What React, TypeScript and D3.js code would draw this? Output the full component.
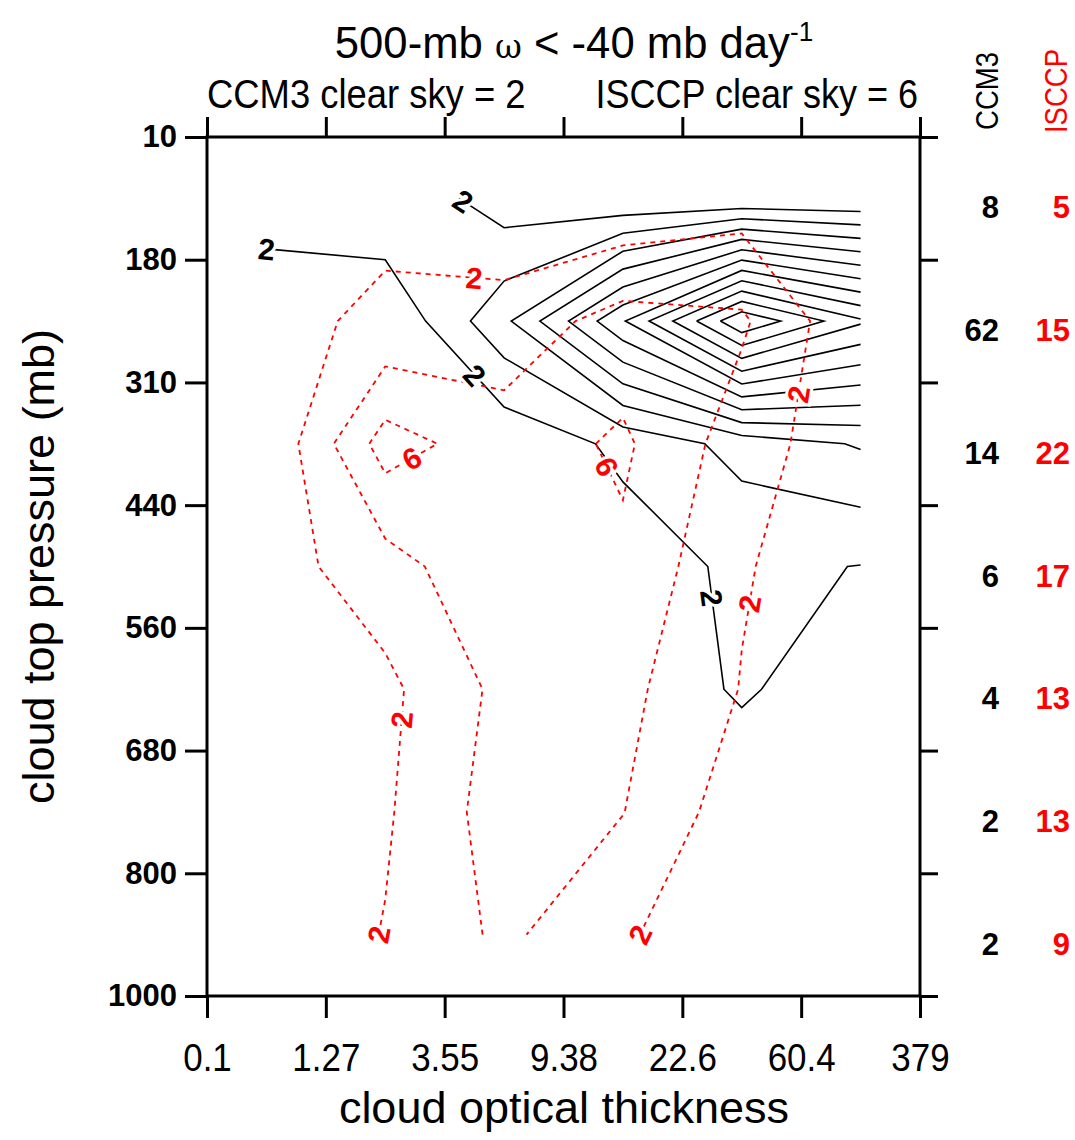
import React, { useEffect, useRef } from 'react'
import * as d3 from 'd3'

// bin edges of the ISCCP joint histogram
const tauEdges = ['0.1', '1.27', '3.55', '9.38', '22.6', '60.4', '379']
const pressureEdges = ['10', '180', '310', '440', '560', '680', '800', '1000']

// cloud amount (%) per bin: rows = pressure bins from the top, cols = tau bins
const ccm3Rows = [
    [3.4, 3.8, 0.9, 0.1, 0.05, 0.05],
    [0.0, 0.2, 5.5, 13.8, 23.8, 18.3],
    [0.1, 0.1, 0.5, 2.45, 4.7, 6.2],
    [0.2, 0.3, 0.5, 1.0, 2.4, 1.95],
    [0.2, 0.2, 0.3, 0.3, 2.3, 0.5],
    [0.3, 0.3, 0.4, 0.4, 0.3, 0.3],
    [0.3, 0.3, 0.4, 0.4, 0.3, 0.3],
]
const isccpRows = [
    [0.8, 1.57, 0.2, 0.3, 1.08, 0.5],
    [1.55, 2.3, 2.9, 4.73, 4.3, 0.3],
    [0.2, 6.9, 4.85, 6.34, 2.97, 0.6],
    [1.1, 3.15, 5.7, 5.6, 2.17, 0.72],
    [0.25, 1.52, 4.55, 4.55, 1.92, 0.2],
    [0.6, 1.75, 5.03, 4.05, 0.85, 0.6],
    [0.3, 2.1, 4.42, 2.2, 0.8, 0.2],
]
const ccm3Totals = ['8', '62', '14', '6', '4', '2', '2']
const isccpTotals = ['5', '15', '22', '17', '13', '13', '9']
const contourLevels = [2, 4, 6, 8, 10, 12, 14, 16, 18, 20, 22, 24]

// where the line labels sit, in bin units (col, row of cell centres)
const ccm3LabelSpots = [
    { level: 2, col: -0.01, row: 0.42 },
    { level: 2, col: 1.65, row: 0.03 },
    { level: 2, col: 1.71, row: 1.48 },
    { level: 2, col: 3.71, row: 3.26 },
]
const isccpLabelSpots = [
    { level: 2, col: 1.74, row: 0.75 },
    { level: 2, col: 4.43, row: 1.59 },
    { level: 2, col: 4.11, row: 3.31 },
    { level: 2, col: 3.1, row: 6.0 },
    { level: 2, col: 1.14, row: 4.25 },
    { level: 2, col: 0.93, row: 6.0 },
    { level: 6, col: 1.23, row: 2.13 },
    { level: 6, col: 2.77, row: 2.23 },
]

// marching squares -> open/closed polylines in (col, row) units
function isolines(grid, level) {
    const nr = grid.length
    const nc = grid[0].length
    const pts = {}
    const adj = {}
    const hKey = (i, j) => `h${i}_${j}`
    const vKey = (i, j) => `v${i}_${j}`
    const hPt = (i, j) => {
        const a = grid[i][j], b = grid[i][j + 1]
        return [j + (level - a) / (b - a), i]
    }
    const vPt = (i, j) => {
        const a = grid[i][j], b = grid[i + 1][j]
        return [j, i + (level - a) / (b - a)]
    }
    const link = (k1, p1, k2, p2) => {
        pts[k1] = p1
        pts[k2] = p2
        ;(adj[k1] = adj[k1] || []).push(k2)
        ;(adj[k2] = adj[k2] || []).push(k1)
    }
    for (let i = 0; i < nr - 1; i++) {
        for (let j = 0; j < nc - 1; j++) {
            const a = grid[i][j], b = grid[i][j + 1]
            const c = grid[i + 1][j + 1], d = grid[i + 1][j]
            const code = (a > level ? 8 : 0) | (b > level ? 4 : 0) | (c > level ? 2 : 0) | (d > level ? 1 : 0)
            if (code === 0 || code === 15) continue
            const T = () => [hKey(i, j), hPt(i, j)]
            const B = () => [hKey(i + 1, j), hPt(i + 1, j)]
            const L = () => [vKey(i, j), vPt(i, j)]
            const R = () => [vKey(i, j + 1), vPt(i, j + 1)]
            const seg = (e1, e2) => {
                const [k1, p1] = e1()
                const [k2, p2] = e2()
                link(k1, p1, k2, p2)
            }
            const centreHigh = (a + b + c + d) / 4 > level
            switch (code) {
                case 1: case 14: seg(L, B); break
                case 2: case 13: seg(B, R); break
                case 3: case 12: seg(L, R); break
                case 4: case 11: seg(T, R); break
                case 6: case 9: seg(T, B); break
                case 7: case 8: seg(T, L); break
                case 5:
                    if (centreHigh) { seg(T, L); seg(B, R) } else { seg(T, R); seg(L, B) }
                    break
                case 10:
                    if (centreHigh) { seg(T, R); seg(L, B) } else { seg(T, L); seg(B, R) }
                    break
            }
        }
    }
    const used = new Set()
    const lines = []
    const walk = (start) => {
        const out = [start]
        used.add(start)
        let cur = start
        for (;;) {
            const next = (adj[cur] || []).find((k) => !used.has(k))
            if (!next) break
            used.add(next)
            out.push(next)
            cur = next
        }
        if ((adj[cur] || []).includes(start) && out.length > 2) out.push(start)
        return out.map((k) => pts[k])
    }
    const keys = Object.keys(adj)
    keys.filter((k) => adj[k].length === 1).forEach((k) => { if (!used.has(k)) lines.push(walk(k)) })
    keys.forEach((k) => { if (!used.has(k)) lines.push(walk(k)) })
    return lines
}

export default function App() {
    const svgRef = useRef(null)

    const width = 1075
    const height = 1140
    const left = 207
    const right = 920
    const top = 137
    const bottom = 996
    const font = 'Liberation Sans, Arial, Helvetica, sans-serif'

    useEffect(() => {
        const svg = d3.select(svgRef.current)
        svg.selectAll('*').remove()
        svg.attr('font-family', font)

        const xEdge = d3.scalePoint().domain(tauEdges).range([left, right])
        const yEdge = d3.scalePoint().domain(pressureEdges).range([top, bottom])
        const xBin = d3.scaleLinear().domain([0, tauEdges.length - 1]).range([left, right])
        const yBin = d3.scaleLinear().domain([0, pressureEdges.length - 1]).range([top, bottom])
        const toPx = ([c, r]) => [xBin(c + 0.5), yBin(r + 0.5)]
        const line = d3.line()

        const txt = (g, s, x, y, size, o: any = {}) =>
            g.append('text')
                .attr('transform', `translate(${x},${y}) rotate(${o.rot || 0}) scale(${o.sx || 1},1)`)
                .attr('text-anchor', o.anchor || 'middle')
                .attr('font-size', size)
                .attr('font-weight', o.weight || 'normal')
                .attr('fill', o.fill || '#000')
                .text(s)

        // contour lines
        const lines = svg.append('g').attr('fill', 'none')
        const drawSet = (rows, color, dash, w) => {
            contourLevels.forEach((lv) => {
                isolines(rows, lv).forEach((pl) => {
                    lines.append('path')
                        .attr('d', line(pl.map(toPx)))
                        .attr('stroke', color)
                        .attr('stroke-width', w)
                        .attr('stroke-dasharray', dash)
                })
            })
        }
        drawSet(ccm3Rows, '#000', null, 1.6)
        drawSet(isccpRows, '#ff0000', '5 5', 1.8)

        // line labels, snapped onto the nearest contour and turned along it
        const labels = svg.append('g')
        const drawLabels = (rows, spots, color) => {
            spots.forEach((s) => {
                const [tx, ty] = toPx([s.col, s.row])
                let best = null
                isolines(rows, s.level).forEach((pl) => {
                    const p = pl.map(toPx)
                    for (let k = 0; k < p.length - 1; k++) {
                        const [x1, y1] = p[k]
                        const [x2, y2] = p[k + 1]
                        const dx = x2 - x1, dy = y2 - y1
                        const t = Math.max(0, Math.min(1, ((tx - x1) * dx + (ty - y1) * dy) / (dx * dx + dy * dy || 1)))
                        const px = x1 + t * dx, py = y1 + t * dy
                        const dd = (px - tx) ** 2 + (py - ty) ** 2
                        if (!best || dd < best.d) best = { d: dd, x: px, y: py, a: (Math.atan2(dy, dx) * 180) / Math.PI }
                    }
                })
                if (!best) return
                let a = best.a
                if (a > 90) a -= 180
                if (a < -90) a += 180
                labels.append('text')
                    .attr('transform', `translate(${best.x},${best.y}) rotate(${a})`)
                    .attr('text-anchor', 'middle')
                    .attr('dy', '0.36em')
                    .attr('font-size', 30)
                    .attr('font-weight', 'bold')
                    .attr('fill', color)
                    .attr('stroke', '#fff')
                    .attr('stroke-width', 6)
                    .attr('paint-order', 'stroke')
                    .text(String(s.level))
            })
        }
        drawLabels(ccm3Rows, ccm3LabelSpots, '#000')
        drawLabels(isccpRows, isccpLabelSpots, '#ff0000')

        // axes: outward ticks on all four sides, labels left and bottom
        const styleAxis = (g) => {
            g.select('.domain').remove()
            g.selectAll('.tick line').attr('stroke', '#000').attr('stroke-width', 3)
        }
        svg.append('g')
            .attr('transform', `translate(0,${bottom})`)
            .call(d3.axisBottom(xEdge).tickSize(22).tickPadding(26))
            .call(styleAxis)
            .call((g) => g.selectAll('.tick text')
                .attr('font-size', 38).attr('font-family', font).attr('fill', '#000')
                .attr('transform', 'scale(0.92,1)'))
        svg.append('g')
            .attr('transform', `translate(0,${top})`)
            .call(d3.axisTop(xEdge).tickSize(20).tickFormat(() => ''))
            .call(styleAxis)
        svg.append('g')
            .attr('transform', `translate(${left},0)`)
            .call(d3.axisLeft(yEdge).tickSize(22).tickPadding(8))
            .call(styleAxis)
            .call((g) => g.selectAll('.tick text')
                .attr('font-size', 31).attr('font-weight', 'bold').attr('font-family', font).attr('fill', '#000'))
        svg.append('g')
            .attr('transform', `translate(${right},0)`)
            .call(d3.axisRight(yEdge).tickSize(18).tickFormat(() => ''))
            .call(styleAxis)

        svg.append('rect')
            .attr('x', left).attr('y', top)
            .attr('width', right - left).attr('height', bottom - top)
            .attr('fill', 'none').attr('stroke', '#000').attr('stroke-width', 3)

        // titles
        const title = svg.append('text')
            .attr('transform', `translate(574,58) scale(0.97,1)`)
            .attr('text-anchor', 'middle')
            .attr('font-size', 45)
        title.append('tspan').text('500-mb ')
        title.append('tspan').attr('font-family', 'DejaVu Serif').attr('font-size', 34).text('ω')
        title.append('tspan').text(' < -40 mb day')
        title.append('tspan').attr('font-size', 27).attr('dy', -17).text('-1')

        txt(svg, 'CCM3 clear sky = 2', left, 108, 40, { anchor: 'start', sx: 0.91 })
        txt(svg, 'ISCCP clear sky = 6', 918, 108, 40, { anchor: 'end', sx: 0.9 })
        txt(svg, 'cloud optical thickness', 564, 1123, 45)
        txt(svg, 'cloud top pressure (mb)', 54, (top + bottom) / 2, 45, { rot: -90 })

        // row totals on the right
        txt(svg, 'CCM3', 998, 91, 32, { rot: -90, sx: 0.86 })
        txt(svg, 'ISCCP', 1067, 91, 32, { rot: -90, sx: 0.86, fill: '#ff0000' })
        ccm3Totals.forEach((v, i) => {
            txt(svg, v, 999, yBin(i + 0.5) + 20, 31, { anchor: 'end', weight: 'bold' })
        })
        isccpTotals.forEach((v, i) => {
            txt(svg, v, 1070, yBin(i + 0.5) + 20, 31, { anchor: 'end', weight: 'bold', fill: '#ff0000' })
        })
    }, [])

    return (
        <svg
            ref={svgRef}
            width={width}
            height={height}
            style={{ position: 'absolute', left: 0, top: 0, background: '#fff' }}
        />
    )
}
